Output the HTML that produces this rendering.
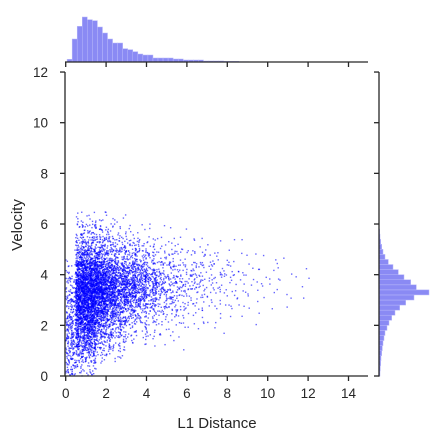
<!DOCTYPE html>
<html><head><meta charset="utf-8"><style>
body{margin:0;background:#fff}
svg{display:block;font-family:"Liberation Sans",sans-serif}
</style></head><body>
<svg id="c" width="441" height="441" viewBox="0 0 441 441"></svg>
<script>
const xTicks=[0,2,4,6,8,10,12,14];
const yTicks=[0,2,4,6,8,10,12];
// top histogram (L1 distance), bin start / width, heights
const topStart=0.07, topWidth=0.25;
const topHeights=[8,69,107,135,127,124,105,87,69,57,57,40,37,31,24,21,21,12,12,12,12,9,9,6,6,6,6,3,3,3,3,2,2,2,1,1];
// right histogram (velocity)
const rightStart=0, rightWidth=0.2;
const rightHeights=[3,4,5,6,8,10,12,15,18,24,30,38,48,62,80,105,150,112,95,75,58,42,28,18,12,8,5,3,2];
// scatter density: columns of 0.5 in x, rows of 0.5 in y
const colTotals=[300,1300,1350,1000,700,500,400,300,220,130,110,80,60,45,35,28,22,16,12,10,8,6,4,3,2];
const profiles=[
 [.10,.12,.14,.15,.15,.13,.11,.06,.03,.01,0,0,0],
 [.01,.03,.06,.09,.12,.15,.17,.15,.11,.06,.03,.015,.005],
 [0,.01,.03,.06,.10,.15,.20,.19,.13,.07,.04,.015,.005],
 [0,0,.01,.03,.07,.14,.22,.24,.16,.08,.04,.01,0],
 [0,0,0,.02,.06,.12,.2,.26,.2,.1,.04,0,0]];
const colProfile=[0,1,1,2,2,2,3,3,3,3,3,3,4,4,4,4,4,4,4,4,4,4,4,4,4];

const NS="http://www.w3.org/2000/svg";
const svg=document.getElementById('c');
const X0=65.7,XU=20.2,Y0=376,YU=25.33;
const sx=v=>X0+v*XU, sy=v=>Y0-v*YU;
function mk(t,a,p){const e=document.createElementNS(NS,t);for(const k in a)e.setAttribute(k,a[k]);(p||svg).appendChild(e);return e;}

// scatter
const gS=mk('g',{});


let st=123456789;
function h(){st^=st<<13;st>>>=0;st^=st>>>17;st^=st<<5;st>>>=0;return st/4294967296;}
colTotals.forEach((tot,ci)=>{
  const pr=profiles[colProfile[ci]];
  pr.forEach((f,ri)=>{
    const n=Math.round(tot*f);
    for(let k=0;k<n;k++){
      const x=ci*0.5+h()*0.5, y=ri*0.5+h()*0.5;
      const d=mk('rect',{x:sx(x)-0.7,y:sy(y)-0.7,width:1.4,height:1.4,fill:'#0000ff','fill-opacity':0.6},gS);
      
      
    }
  });
});

// top histogram
const gT=mk('g',{});


topHeights.forEach((v,i)=>{
  const x1=sx(topStart+i*topWidth),x2=sx(topStart+(i+1)*topWidth),hh=v/3;
  const r=mk('rect',{x:x1,y:62-hh,width:x2-x1,height:hh,fill:'#8a8af4',stroke:'#b8b8fa','stroke-width':0.5},gT);
  
  
});
// right histogram
const gR=mk('g',{});


rightHeights.forEach((v,i)=>{
  const y1=sy(rightStart+(i+1)*rightWidth),y2=sy(rightStart+i*rightWidth),w=v/3;
  const r=mk('rect',{x:379,y:y1,width:w,height:y2-y1,fill:'#8a8af4',stroke:'#b8b8fa','stroke-width':0.5},gR);
  
  
});

// axes
const ax={stroke:'#262626','stroke-width':1.3};
let e;
e=mk('line',Object.assign({x1:65,y1:72,x2:65,y2:376.6},ax));
e=mk('line',Object.assign({x1:65,y1:376,x2:368,y2:376},ax));
e=mk('line',Object.assign({x1:65,y1:62,x2:368,y2:62},ax));
e=mk('line',Object.assign({x1:379,y1:72,x2:379,y2:376.6},ax));
xTicks.forEach(t=>{
  mk('line',Object.assign({x1:sx(t),y1:376,x2:sx(t),y2:381},ax));
  mk('line',Object.assign({x1:sx(t),y1:62,x2:sx(t),y2:67},ax));
  const l=mk('text',{x:sx(t),y:398,'text-anchor':'middle','font-size':13.5,fill:'#262626'});
  l.textContent=t;
  
  
});
yTicks.forEach(t=>{
  mk('line',Object.assign({x1:60,y1:sy(t),x2:65,y2:sy(t)},ax));
  mk('line',Object.assign({x1:374,y1:sy(t),x2:379,y2:sy(t)},ax));
  const l=mk('text',{x:48,y:sy(t)+5,'text-anchor':'end','font-size':13.5,fill:'#262626'});
  l.textContent=t;
  
  
});
e=mk('text',{x:217,y:428,'text-anchor':'middle','font-size':15,fill:'#262626'});e.textContent='L1 Distance';

e=mk('text',{x:22,y:225,'text-anchor':'middle','font-size':15,fill:'#262626',transform:'rotate(-90 22 225)'});e.textContent='Velocity';

</script>
</body></html>
